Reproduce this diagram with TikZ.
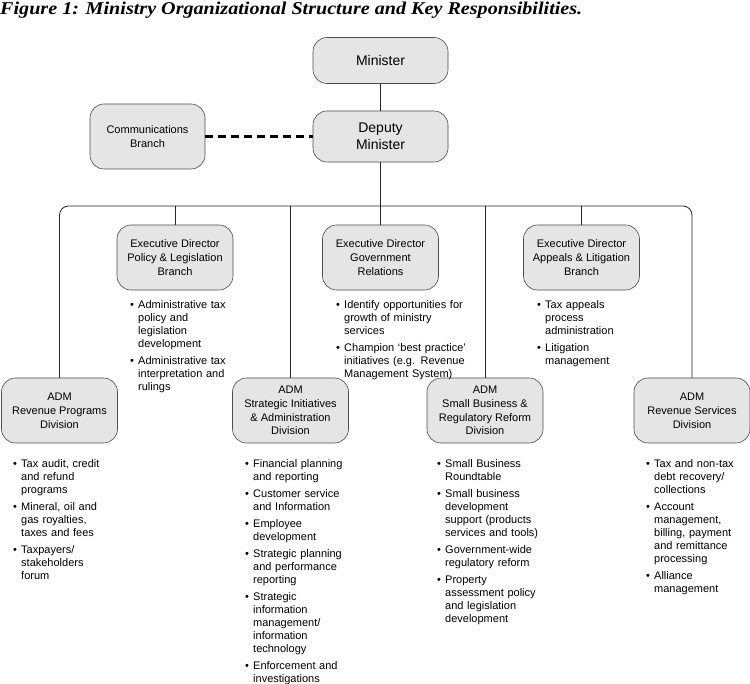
\documentclass[tikz,border=0pt]{standalone}
\usepackage{fontspec}
\setmainfont{Liberation Sans}
\newfontfamily\titlefont{Liberation Serif}
\newcommand{\duty}[1]{\par\noindent\makebox[8pt][l]{\textbullet}%
  \parbox[t]{125pt}{\raggedright #1\par\xdef\dutydp{\the\prevdepth}}%
  \par\prevdepth=\dutydp\relax\vspace{4pt}}
\begin{document}
\begin{tikzpicture}[x=1pt,y=-1pt, line join=round, line cap=round,
  unit/.style={draw=gray!60!black, line width=0.6pt, fill=gray!20, rounded corners=14pt,
    minimum width=116pt, minimum height=65pt, align=center, inner sep=2pt,
    font=\fontsize{11}{13.8}\selectfont},
  topbox/.style={unit, minimum width=135pt, font=\fontsize{14}{17}\selectfont},
  duties/.style={anchor=north west, inner sep=0pt, text width=135pt,
    font=\fontsize{11}{13}\selectfont},
  link/.style={draw=black!85, line width=0.8pt}]
\useasboundingbox (0,0) rectangle (750,684);
\def\ytop{295} \def\ybot{454.5} % first lines of the lists
% title
\node[anchor=base west, inner sep=0pt] (title) at (0,14.5)
  {\resizebox{582pt}{12.5pt}{\titlefont\bfseries\itshape Figure 1: Ministry Organizational Structure and Key Responsibilities.}};
% top of the chart
\node[topbox, minimum height=46pt] (min) at (380.5,60.5) {Minister};
\node[topbox, minimum height=51pt] (dm) at (380.5,136.5) {Deputy\\Minister};
\node[unit, minimum width=115pt] (cb) at (147.5,136.5) {Communications\\Branch};
% executive directors
\node[unit] (pl) at (175,257.5) {Executive Director\\Policy \& Legislation\\Branch};
\node[unit] (gr) at (380.5,257.5) {Executive Director\\Government\\Relations};
\node[unit] (al) at (581.5,257.5) {Executive Director\\Appeals \& Litigation\\Branch};
% assistant deputy ministers
\node[unit] (rp) at (59.5,410.5) {ADM\\Revenue Programs\\Division};
\node[unit] (si) at (290.5,410.5) {ADM\\Strategic Initiatives\\\& Administration\\Division};
\node[unit] (sb) at (485,410.5) {ADM\\Small Business \&\\Regulatory Reform\\Division};
\node[unit] (rs) at (692,410.5) {ADM\\Revenue Services\\Division};
% connectors
\coordinate (bus) at (380.5,206);
\draw[link] (min) -- (dm);
\draw[link] (dm) -- (gr);
\draw[draw=black, line width=2.2pt, line cap=butt, dash pattern=on 8pt off 5pt] (cb) -- (dm);
\draw[link, rounded corners=9pt] (rp.north) |- (bus) -| (rs.north);
\foreach \n in {pl,si,sb,al}
  \draw[link] (\n.north) -- (\n.north |- bus);
% responsibilities
\node[duties] (pld) at (130,\ytop) {\duty{Administrative tax\\policy and\\legislation\\development}\duty{Administrative tax\\interpretation and\\rulings}};
\node[duties] (grd) at (336,\ytop) {\duty{Identify opportunities for\\growth of ministry\\services}\duty{Champion ‘best practice’\\initiatives (e.g. Revenue\\Management System)}};
\node[duties] (ald) at (537,\ytop) {\duty{Tax appeals\\process\\administration}\duty{Litigation\\management}};
\node[duties] (rpd) at (13,\ybot) {\duty{Tax audit, credit\\and refund\\programs}\duty{Mineral, oil and\\gas royalties,\\taxes and fees}\duty{Taxpayers/\\stakeholders\\forum}};
\node[duties] (sid) at (245,\ybot) {\duty{Financial planning\\and reporting}\duty{Customer service\\and Information}\duty{Employee\\development}\duty{Strategic planning\\and performance\\reporting}\duty{Strategic\\information\\management/\\information\\technology}\duty{Enforcement and\\investigations}};
\node[duties] (sbd) at (437,\ybot) {\duty{Small Business\\Roundtable}\duty{Small business\\development\\support (products\\services and tools)}\duty{Government-wide\\regulatory reform}\duty{Property\\assessment policy\\and legislation\\development}};
\node[duties] (rsd) at (646,\ybot) {\duty{Tax and non-tax\\debt recovery/\\collections}\duty{Account\\management,\\billing, payment\\and remittance\\processing}\duty{Alliance\\management}};
\end{tikzpicture}
\end{document}
